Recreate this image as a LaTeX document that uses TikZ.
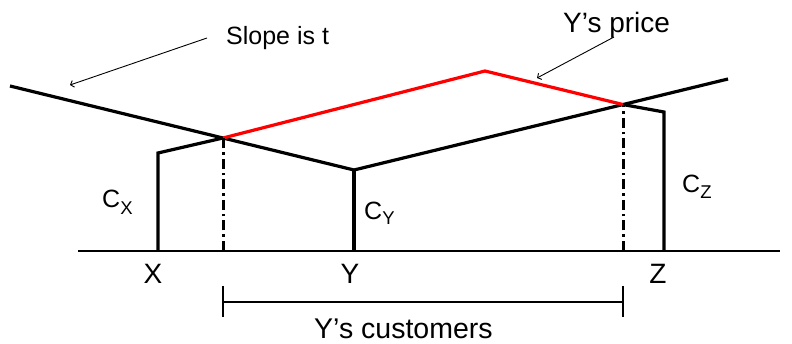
\documentclass[tikz,border=0pt]{standalone}
\usepackage{fontspec}
\setmainfont{Liberation Sans}
\usetikzlibrary{arrows.meta,calc}
\newcommand{\costlab}[2]{C\raisebox{-#2}{\fontsize{18.5}{18.5}\selectfont #1}}
\begin{document}
\begin{tikzpicture}[x=1pt,y=-1pt,
  heavy/.style={line width=3.2pt,line join=miter},
  baseln/.style={line width=2.4pt},
  redline/.style={line width=3.2pt,red,line join=miter},
  dashdot/.style={line width=3pt,dash pattern=on 10pt off 4pt on 2.5pt off 4pt},
  leader/.style={line width=0.9pt,-{Straight Barb[length=3pt,width=7pt]}},
  brk/.style={line width=2.2pt},
  lab/.style={inner sep=0pt,anchor=base west},
  axl/.style={inner sep=0pt,anchor=base,font=\fontsize{28}{28}\selectfont}]
\useasboundingbox (0,0) rectangle (792,344);
% key points
\coordinate (L0) at (10,86);
\coordinate (Yt) at (354,170);
\coordinate (Yb) at (354,251);
\coordinate (R1) at (728,79);
\coordinate (Xt) at (158,153);
\coordinate (Xb) at (158,251);
\coordinate (Zt) at (664,112);
\coordinate (Zb) at (664,251);
\coordinate (I1) at ($(L0)!0.6192!(Yt)$);
\coordinate (I2) at ($(Yt)!0.7193!(R1)$);
\coordinate (Pk) at (485,71);
\coordinate (B0) at (78,251);
\coordinate (B1) at (780,251);
\coordinate (I1b) at ($(I1|-B0)$);
\coordinate (I2b) at ($(I2|-B0)$);
% baseline
\draw[baseln] (B0) -- (B1);
% cost / price lines
\draw[heavy] (L0) -- (Yt) -- (R1);
\draw[heavy] (Xb) -- (Xt) -- (I1);
\draw[heavy] (Yb) -- (Yt);
\draw[heavy] (Zb) -- (Zt) -- (I2);
\draw[redline] (I1) -- (Pk) -- (I2);
% dash-dot verticals
\draw[dashdot] (I1b) -- (I1);
\draw[dashdot] (I2b) -- (I2);
% bracket
\coordinate (K0) at (223,302);
\coordinate (K1) at (623,302);
\draw[brk] (K0) -- (K1);
\draw[brk] ($(K0)+(0,-16)$) -- ($(K0)+(0,15)$);
\draw[brk] ($(K1)+(0,-16)$) -- ($(K1)+(0,15)$);
% labels
\node[lab,font=\fontsize{25}{25}\selectfont] (slope) at (226,45) {Slope is t};
\node[lab,font=\fontsize{28}{28}\selectfont] (price) at (563,33) {Y’s price};
\node[lab,font=\fontsize{28.5}{28.5}\selectfont] (cust) at (314,339) {Y’s customers};
\coordinate (sa) at (70,85);
\coordinate (pa) at (537,78);
\draw[leader] (207,38) -- (sa);
\draw[leader] (614,37) -- (pa);
\node[axl] (xl) at (153,284) {X};
\node[axl] (yl) at (350,284) {Y};
\node[axl] (zl) at (658,284) {Z};
\node[lab,font=\fontsize{25}{25}\selectfont] (cx) at (102,208) {\costlab{X}{7pt}};
\node[lab,font=\fontsize{25}{25}\selectfont] (cy) at (364,220) {\costlab{Y}{5pt}};
\node[lab,font=\fontsize{25}{25}\selectfont] (cz) at (682,193) {\costlab{Z}{6pt}};
\end{tikzpicture}
\end{document}
